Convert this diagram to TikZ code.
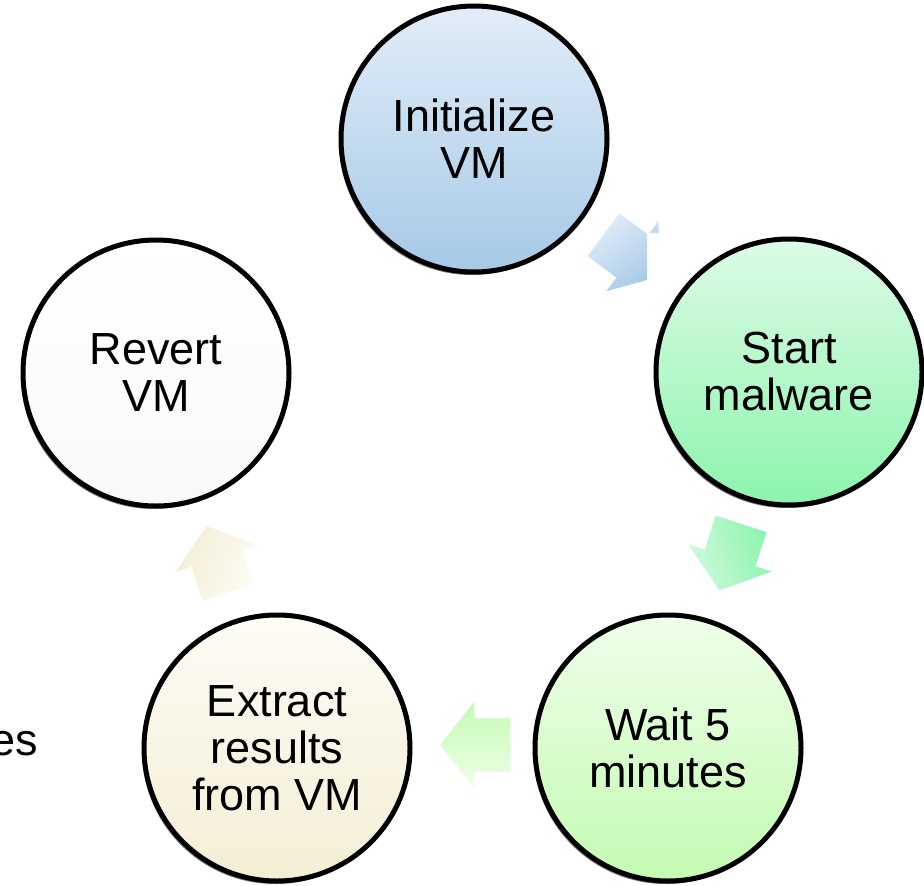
\documentclass[tikz,border=0pt]{standalone}
\usepackage{fontspec}
\setmainfont{Liberation Sans}
\usetikzlibrary{shapes.arrows,shadows,calc}

\definecolor{initTop}{HTML}{E2EDF8}
\definecolor{initBot}{HTML}{A6C9E7}
\definecolor{startTop}{HTML}{DDFBE6}
\definecolor{startBot}{HTML}{8DF4AE}
\definecolor{waitTop}{HTML}{EFFEEA}
\definecolor{waitBot}{HTML}{C4FBB2}
\definecolor{extrTop}{HTML}{FDFCF6}
\definecolor{extrBot}{HTML}{F4EED4}
\definecolor{revTop}{HTML}{FFFFFF}
\definecolor{revBot}{HTML}{F9F9F9}

\tikzset{
    stage/.style 2 args={circle, draw=black, line width=5pt, minimum size=266pt, inner sep=0pt,
        align=center, font=\fontsize{45}{47}\selectfont, top color=#1, bottom color=#2,
        drop shadow={shadow xshift=-2pt, shadow yshift=-3pt, fill=black, opacity=.55}},
    cyclearrow/.style n args={3}{single arrow, draw=none, inner xsep=0pt, inner ysep=26.5pt,
        minimum width=87pt, minimum height=70pt, single arrow head extend=17pt,
        single arrow tip angle=104, anchor=tail, top color=#2, bottom color=#3,
        shading angle=-#1, rotate=#1}
}

\begin{document}
\begin{tikzpicture}[x=1pt,y=-1pt]
                \useasboundingbox (0,0) rectangle (924,886);
                \node[stage={initTop}{initBot}] (init) at (474,139) {Initialize\\VM};
                \node[stage={startTop}{startBot}] (start) at (789,372) {Start\\malware};
                \node[stage={waitTop}{waitBot}] (wait) at (668,748) {Wait 5\\minutes};
                \node[stage={extrTop}{extrBot}] (extract) at (277,748) {Extract\\results\\from VM};
                \node[stage={revTop}{revBot}] (revert) at (156,373) {Revert\\VM};
                \node[font=\fontsize{45}{47}\selectfont, anchor=base east, inner sep=0pt] (rest) at (38,755) {es};
                \begin{scope}
                \clip (0,0) -- (924,0) -- (924,233) -- (647,233) -- (647,886) -- (0,886) -- cycle;
                \node[cyclearrow={-36.6}{initTop}{initBot}] (a1) at ($(init)!.5!(start)!35pt!(init)$) {};
                \end{scope}
                \node[cyclearrow={-108}{startTop!80!startBot}{startBot}] (a2) at ($(start)!.5!(wait)!35pt!(start)+(2,-3)$) {};
                \node[cyclearrow={180}{waitTop}{waitBot}] (a3) at ($(wait)!.5!(extract)!35pt!(wait)+(3,-3)$) {};
                \node[cyclearrow={108}{extrTop}{extrBot}] (a4) at ($(extract)!.5!(revert)!35pt!(extract)+(1,-1)$) {};
                %\node[cyclearrow={36}{revTop}{revBot}] (a5) at ($(revert)!.5!(init)!35pt!(revert)$) {};
                \end{tikzpicture}
\end{document}
